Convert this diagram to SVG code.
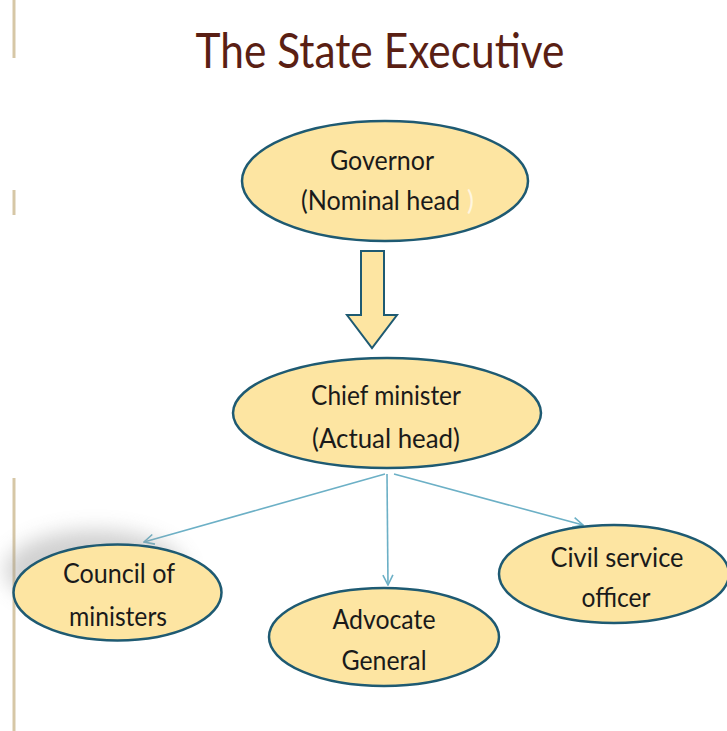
<svg xmlns="http://www.w3.org/2000/svg" width="727" height="731" viewBox="0 0 727 731">
<style>
.node{fill:#fde5a2;stroke:#1e5a72;stroke-width:2.5}
.lbl{font-family:Lato,"Open Sans",sans-serif;font-size:26px;fill:#1a1a1a;text-anchor:middle}
.conn{stroke:#6cb0c6;stroke-width:1.6;fill:none}
</style>
<defs>
<marker id="ah" viewBox="0 0 12 12" refX="11" refY="6" markerWidth="12" markerHeight="12" markerUnits="userSpaceOnUse" orient="auto">
<path d="M1,1 L11,6 L1,11" fill="none" stroke="#6cb0c6" stroke-width="1.6"/>
</marker>
<filter id="blur" x="-50%" y="-50%" width="200%" height="200%"><feGaussianBlur stdDeviation="10"/></filter>
</defs>
<rect width="727" height="731" fill="#ffffff"/>
<g id="sidebar" stroke="#d6c7a6" stroke-width="3">
<line x1="14" y1="0" x2="14" y2="58"/>
<line x1="14" y1="190" x2="14" y2="215"/>
<line x1="14" y1="478" x2="14" y2="731"/>
</g>
<text id="title" x="380" y="68" font-family="Lato,'Open Sans',sans-serif" font-size="48" fill="#5a1f14" text-anchor="middle" textLength="369" lengthAdjust="spacingAndGlyphs">The State Executive</text>
<g id="connectors">
<path d="M361,251 H384 V315 H397 L372,348 L347,315 H361 Z" fill="#fde5a2" stroke="#1e5a72" stroke-width="2"/>
<line class="conn" x1="385" y1="474" x2="144" y2="542" marker-end="url(#ah)"/>
<line class="conn" x1="387" y1="474" x2="388" y2="585" marker-end="url(#ah)"/>
<line class="conn" x1="394" y1="474" x2="583" y2="525" marker-end="url(#ah)"/>
</g>
<g id="governor">
<ellipse class="node" cx="385" cy="181" rx="143" ry="60"/>
<text class="lbl" x="382" y="170" textLength="104" lengthAdjust="spacingAndGlyphs">Governor</text>
<text class="lbl" x="301" y="210" style="text-anchor:start" textLength="159" lengthAdjust="spacingAndGlyphs">(Nominal head</text>
<text class="lbl" x="467" y="210" style="text-anchor:start;fill:#fff6e0">)</text>
</g>
<g id="chief">
<ellipse class="node" cx="387" cy="413" rx="154" ry="55"/>
<text class="lbl" x="386" y="405" textLength="150" lengthAdjust="spacingAndGlyphs">Chief minister</text>
<text class="lbl" x="386" y="448" textLength="148" lengthAdjust="spacingAndGlyphs">(Actual head)</text>
</g>
<g id="council">
<ellipse cx="95" cy="570" rx="90" ry="40" fill="#9a9a9a" opacity="0.45" filter="url(#blur)"/>
<ellipse class="node" cx="117.5" cy="592.5" rx="104" ry="48"/>
<text class="lbl" x="119" y="583" textLength="112" lengthAdjust="spacingAndGlyphs">Council of</text>
<text class="lbl" x="118" y="626" textLength="98" lengthAdjust="spacingAndGlyphs">ministers</text>
</g>
<g id="advocate">
<ellipse class="node" cx="384" cy="637" rx="115" ry="49"/>
<text class="lbl" x="384" y="629" textLength="103" lengthAdjust="spacingAndGlyphs">Advocate</text>
<text class="lbl" x="384" y="670" textLength="85" lengthAdjust="spacingAndGlyphs">General</text>
</g>
<g id="civil">
<ellipse class="node" cx="614" cy="574" rx="115" ry="49"/>
<text class="lbl" x="617" y="567" textLength="133" lengthAdjust="spacingAndGlyphs">Civil service</text>
<text class="lbl" x="616" y="607" textLength="69" lengthAdjust="spacingAndGlyphs">officer</text>
</g>
</svg>
